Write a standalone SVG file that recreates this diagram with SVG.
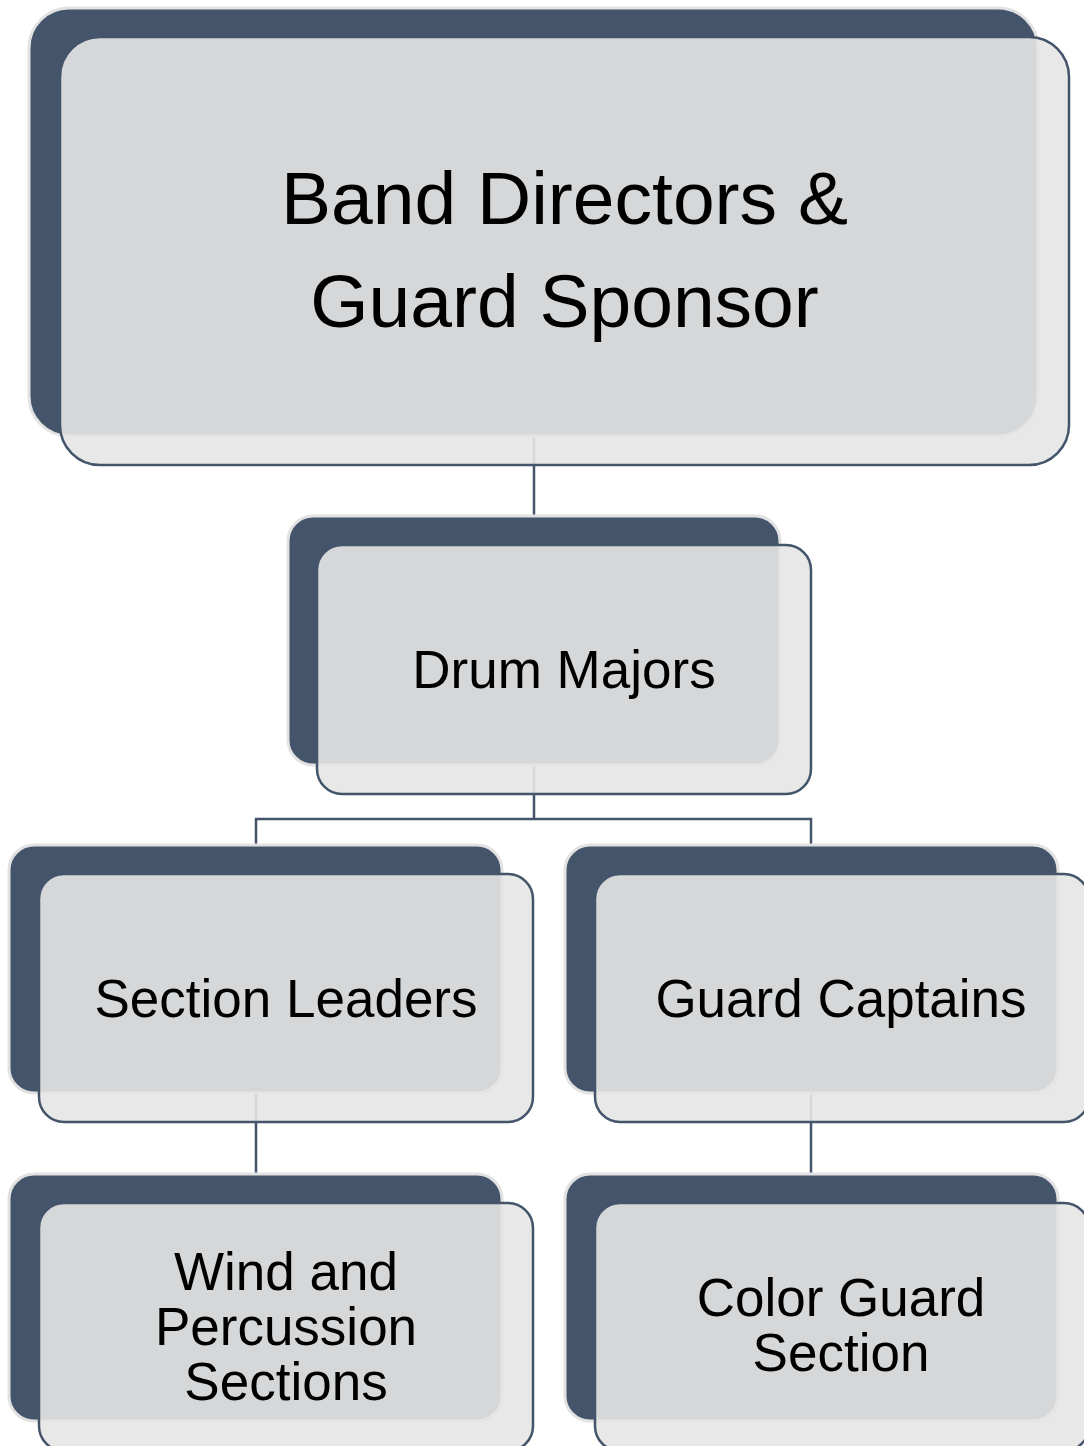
<svg xmlns="http://www.w3.org/2000/svg" width="1084" height="1446" viewBox="0 0 1084 1446">
<style>
.back{fill:#44546A;stroke:#E2E2E2;stroke-width:3}
.front{fill:#E5E5E5;fill-opacity:0.9;stroke:#44546A;stroke-width:2.5}
.conn{fill:none;stroke:#44546A;stroke-width:2.5}
.t{font-family:"Liberation Sans",Arial,sans-serif;fill:#000;text-anchor:middle}
</style>
<rect width="1084" height="1446" fill="#FFFFFF"/>
<g id="connectors">
<path class="conn" d="M534,436 V516"/>
<path class="conn" d="M534,765 V819 M256,845 V819 H811 V845"/>
<path class="conn" d="M256,1093 V1174"/>
<path class="conn" d="M811,1093 V1174"/>
</g>
<g id="n1">
<rect class="back" x="29" y="8" width="1009" height="428" rx="40"/>
<rect class="front" x="60" y="37" width="1009" height="428" rx="40"/>
<text class="t" font-size="75" x="564.5" y="224">Band Directors &amp;</text>
<text class="t" font-size="75" x="564.5" y="327">Guard Sponsor</text>
</g>
<g id="n2">
<rect class="back" x="288" y="516" width="492" height="249" rx="25"/>
<rect class="front" x="317" y="545" width="494" height="249" rx="25"/>
<text class="t" font-size="53" x="564" y="688">Drum Majors</text>
</g>
<g id="n3">
<rect class="back" x="9" y="845" width="493" height="248" rx="25"/>
<rect class="front" x="39" y="874" width="494" height="248" rx="25"/>
<text class="t" font-size="53" x="286" y="1017">Section Leaders</text>
</g>
<g id="n4">
<rect class="back" x="565" y="845" width="493" height="248" rx="25"/>
<rect class="front" x="595" y="874" width="494" height="248" rx="25"/>
<text class="t" font-size="53" x="841" y="1017">Guard Captains</text>
</g>
<g id="n5">
<rect class="back" x="9" y="1174" width="493" height="247" rx="25"/>
<rect class="front" x="39" y="1203" width="494" height="248" rx="25"/>
<text class="t" font-size="53" x="286" y="1290">Wind and</text>
<text class="t" font-size="53" x="286" y="1345">Percussion</text>
<text class="t" font-size="53" x="286" y="1400">Sections</text>
</g>
<g id="n6">
<rect class="back" x="565" y="1174" width="493" height="247" rx="25"/>
<rect class="front" x="595" y="1203" width="494" height="248" rx="25"/>
<text class="t" font-size="53" x="841" y="1316">Color Guard</text>
<text class="t" font-size="53" x="841" y="1371">Section</text>
</g>
</svg>
